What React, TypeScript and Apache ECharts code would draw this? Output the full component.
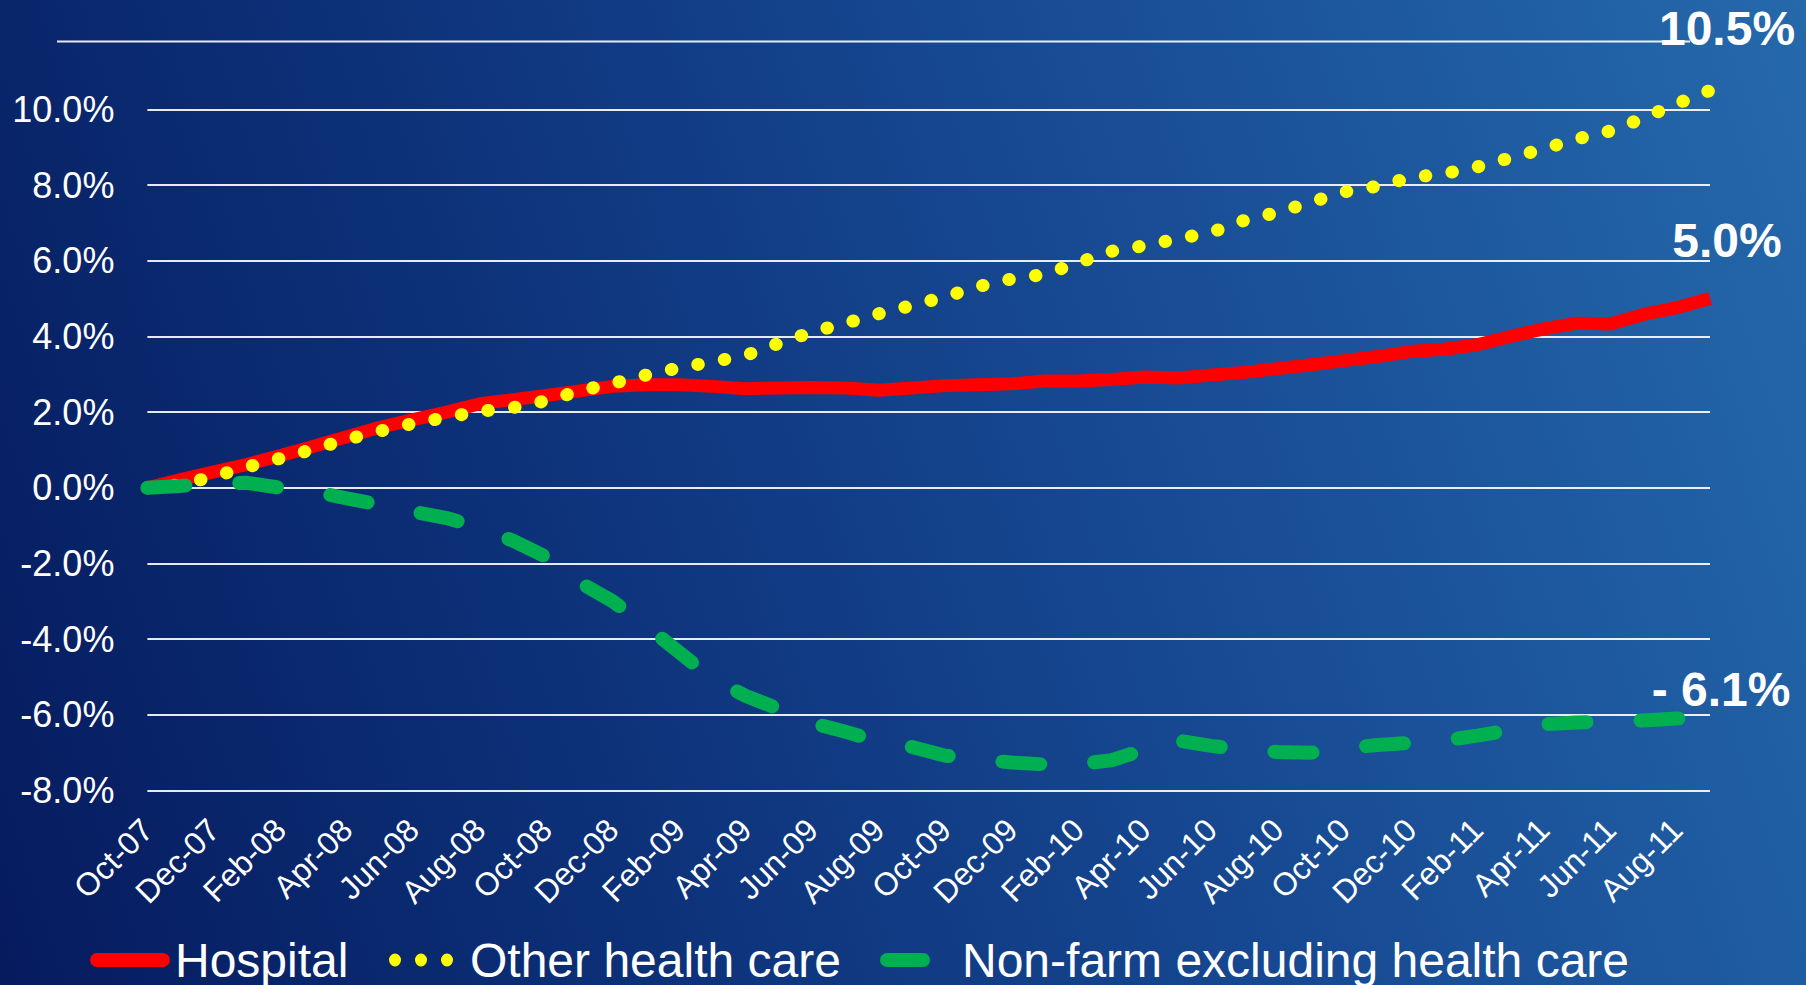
import React, { useEffect, useRef } from "react";
import * as echarts from "echarts";

const FONT = '"Liberation Sans", Arial, sans-serif';

const categories = [
  "Oct-07", "Nov-07", "Dec-07",
  "Jan-08", "Feb-08", "Mar-08", "Apr-08", "May-08", "Jun-08", "Jul-08", "Aug-08", "Sep-08", "Oct-08", "Nov-08", "Dec-08",
  "Jan-09", "Feb-09", "Mar-09", "Apr-09", "May-09", "Jun-09", "Jul-09", "Aug-09", "Sep-09", "Oct-09", "Nov-09", "Dec-09",
  "Jan-10", "Feb-10", "Mar-10", "Apr-10", "May-10", "Jun-10", "Jul-10", "Aug-10", "Sep-10", "Oct-10", "Nov-10", "Dec-10",
  "Jan-11", "Feb-11", "Mar-11", "Apr-11", "May-11", "Jun-11", "Jul-11", "Aug-11", "Sep-11",
];

const hospital = [
  0, 0.22, 0.42, 0.62, 0.85, 1.1, 1.35, 1.6, 1.8, 2.0, 2.22, 2.33, 2.44, 2.56, 2.68, 2.72,
  2.72, 2.68, 2.62, 2.64, 2.65, 2.64, 2.58, 2.64, 2.7, 2.72, 2.75, 2.82, 2.82, 2.86, 2.93, 2.9,
  2.98, 3.05, 3.15, 3.25, 3.36, 3.47, 3.6, 3.66, 3.78, 4.0, 4.2, 4.35, 4.33, 4.58, 4.76, 5.0,
];

const otherHealthCare = [
  0, 0.08, 0.3, 0.55, 0.78, 1.02, 1.28, 1.5, 1.7, 1.86, 2.02, 2.12, 2.3, 2.56, 2.76, 2.98,
  3.17, 3.33, 3.5, 3.82, 4.12, 4.35, 4.6, 4.82, 5.05, 5.32, 5.52, 5.64, 5.95, 6.25, 6.4, 6.58,
  6.75, 7.07, 7.28, 7.55, 7.82, 7.97, 8.2, 8.3, 8.48, 8.72, 8.96, 9.22, 9.43, 9.77, 10.15, 10.5,
];

const nonFarm = [
  0, 0.05, 0.12, 0.13, 0.0, -0.1, -0.28, -0.45, -0.63, -0.8, -1.05, -1.4, -1.83, -2.5, -3.0, -3.65,
  -4.35, -5.05, -5.5, -5.85, -6.22, -6.45, -6.7, -6.85, -7.08, -7.18, -7.26, -7.31, -7.3, -7.2, -6.92, -6.68,
  -6.82, -6.92, -6.98, -7.0, -6.88, -6.8, -6.74, -6.68, -6.55, -6.4, -6.25, -6.2, -6.18, -6.15, -6.1, -6.1,
];

const yTicks = { min: -8, max: 10, interval: 2 };

const seriesNames = ["Hospital", "Other health care", "Non-farm excluding health care"];
const seriesColors = ["#FF0000", "#FFFF00", "#00B050"];

const fmtEnd = (v: number) => (v < 0 ? "- " + Math.abs(v).toFixed(1) + "%" : v.toFixed(1) + "%");

// Label anchored at the last point of a series; the anchor is kept inside the
// axis extent (so the marker is not filtered out) and the label offset is
// measured from that anchor.
function endMark(values: number[], offset: number[]) {
  const last = values.length - 1;
  const anchor = Math.max(yTicks.min, Math.min(yTicks.max, values[last]));
  return {
    silent: true,
    symbol: "circle",
    symbolSize: 1,
    itemStyle: { color: "rgba(0,0,0,0)" },
    label: {
      show: true,
      position: "inside",
      offset,
      color: "#FFFFFF",
      fontFamily: FONT,
      fontSize: 48,
      fontWeight: "bold",
      formatter: (p: any) => fmtEnd(p.value),
    },
    data: [{ coord: [categories[last], anchor], value: values[last] }],
  };
}

export default function App() {
  const ref = useRef<HTMLDivElement>(null);

  useEffect(() => {
    if (!ref.current) return;
    const chart = echarts.init(ref.current, null, { renderer: "svg" });

    const legendText = { color: "#FFFFFF", fontFamily: FONT, fontSize: 48 };

    chart.setOption({
      animation: false,
      backgroundColor: "transparent",
      grid: { left: 147.4, right: 96, top: 109.4, bottom: 194.5, containLabel: false },
      graphic: [
        {
          type: "line",
          silent: true,
          shape: { x1: 57, y1: 41.5, x2: 1690, y2: 41.5 },
          style: { stroke: "rgba(255,255,255,0.9)", lineWidth: 2 },
        },
      ],
      legend: [
        {
          left: 90,
          top: 936,
          padding: 0,
          selectedMode: false,
          itemWidth: 80,
          itemHeight: 14,
          textStyle: legendText,
          data: [
            {
              name: seriesNames[0],
              icon: "path://M7,0H73A7,7,0,0,1,73,14H7A7,7,0,0,1,7,0Z",
              itemStyle: { color: seriesColors[0], borderWidth: 0 },
            },
          ],
        },
        {
          left: 389,
          top: 936,
          padding: 0,
          selectedMode: false,
          itemWidth: 64,
          itemHeight: 13,
          textStyle: { ...legendText, padding: [0, 0, 0, 12] },
          data: [
            {
              name: seriesNames[1],
              icon:
                "path://M0,6.5a6,6.5 0 1,0 12,0a6,6.5 0 1,0 -12,0Z M26,6.5a6,6.5 0 1,0 12,0a6,6.5 0 1,0 -12,0Z M52,6.5a6,6.5 0 1,0 12,0a6,6.5 0 1,0 -12,0Z",
              itemStyle: { color: seriesColors[1], borderWidth: 0 },
            },
          ],
        },
        {
          left: 880,
          top: 936,
          padding: 0,
          selectedMode: false,
          itemWidth: 50,
          itemHeight: 14,
          textStyle: { ...legendText, padding: [0, 0, 0, 27] },
          data: [
            {
              name: seriesNames[2],
              icon: "path://M7,0H43A7,7,0,0,1,43,14H7A7,7,0,0,1,7,0Z",
              itemStyle: { color: seriesColors[2], borderWidth: 0 },
            },
          ],
        },
      ],
      xAxis: {
        type: "category",
        data: categories,
        boundaryGap: false,
        axisLine: { show: false },
        axisTick: { show: false },
        splitLine: { show: false },
        axisLabel: {
          interval: 1,
          rotate: 45,
          margin: 34,
          color: "#FFFFFF",
          fontFamily: FONT,
          fontSize: 32,
        },
      },
      yAxis: {
        type: "value",
        min: yTicks.min,
        max: yTicks.max,
        interval: yTicks.interval,
        axisLine: { show: false },
        axisTick: { show: false },
        splitLine: { show: true, lineStyle: { color: "rgba(255,255,255,0.9)", width: 2 } },
        axisLabel: {
          margin: 33,
          color: "#FFFFFF",
          fontFamily: FONT,
          fontSize: 36,
          formatter: (v: number) => v.toFixed(1) + "%",
        },
      },
      series: [
        {
          name: seriesNames[0],
          type: "line",
          data: hospital,
          clip: false,
          silent: true,
          symbol: "none",
          showSymbol: false,
          color: seriesColors[0],
          lineStyle: { color: seriesColors[0], width: 13, join: "round", cap: "butt" },
          markPoint: endMark(hospital, [17, -58]),
        },
        {
          name: seriesNames[1],
          type: "line",
          data: otherHealthCare,
          clip: false,
          silent: true,
          symbol: "none",
          showSymbol: false,
          color: seriesColors[1],
          lineStyle: { color: seriesColors[1], width: 13, type: [0.5, 26.4], cap: "round", join: "round" },
          markPoint: endMark(otherHealthCare, [17, -81]),
        },
        {
          name: seriesNames[2],
          type: "line",
          data: nonFarm,
          clip: false,
          silent: true,
          symbol: "none",
          showSymbol: false,
          color: seriesColors[2],
          lineStyle: { color: seriesColors[2], width: 14, type: [38, 54], cap: "round", join: "round" },
          markPoint: endMark(nonFarm, [11, -29]),
        },
      ],
    });

    return () => chart.dispose();
  }, []);

  return (
    <div
      ref={ref}
      style={{
        position: "fixed",
        left: 0,
        top: 0,
        width: 1806,
        height: 985,
        background: "linear-gradient(72deg, #061b5e 0%, #0c3078 30%, #174a93 62%, #2569ab 100%)",
      }}
    />
  );
}
